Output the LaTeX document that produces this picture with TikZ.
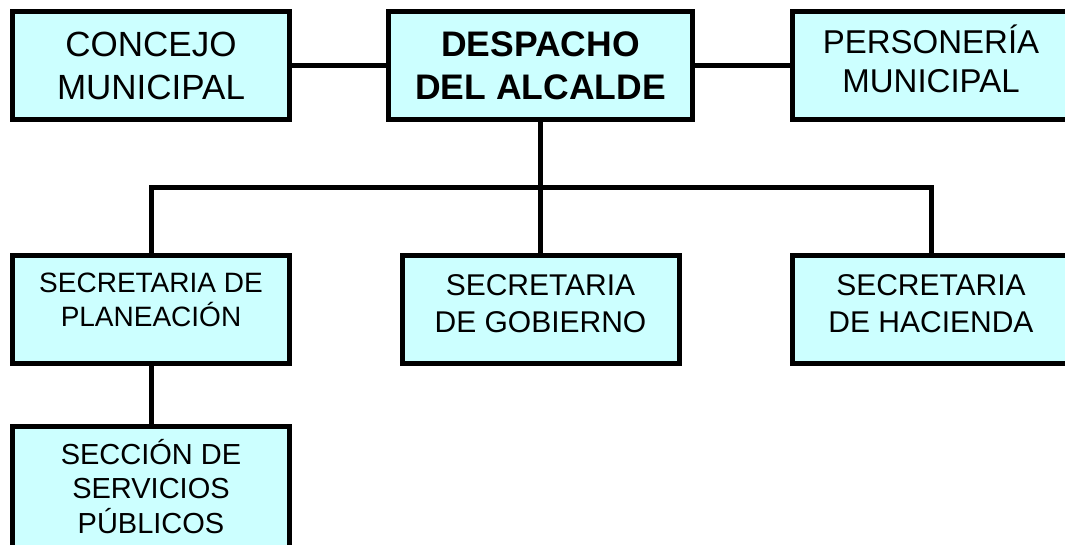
\documentclass[tikz,border=0pt]{standalone}
\usepackage{fontspec}
\setmainfont{Liberation Sans}
\usepackage{tikz}
\usetikzlibrary{positioning}
\definecolor{cajacyan}{HTML}{CCFFFF}
% texto algo mas arriba dentro de la caja
\newcommand{\subir}[2]{\raisebox{#1}[\height][\depth]{\begin{tabular}{@{}c@{}}#2\end{tabular}}}

\begin{document}
\begin{tikzpicture}[x=1pt,y=-1pt,line width=5pt,
  caja/.style={rectangle,draw=black,fill=cajacyan,line width=5pt,align=center,inner sep=0pt,
    minimum width=277pt,minimum height=108pt},
  alta node/.style={caja,font=\fontsize{35}{43}\selectfont},
  jefe node/.style={caja,minimum width=304pt,font=\fontsize{35.5}{43}\selectfont\bfseries},
  baja node/.style={caja,font=\fontsize{30}{37}\selectfont}]
  \useasboundingbox (0,0) rectangle (1065,544);

  \node[jefe node] (despacho) at (540.5,65.5) {DESPACHO\\DEL ALCALDE};
  \node[alta node] (concejo) [left=94pt of despacho] {CONCEJO\\MUNICIPAL};
  \node[alta node,font=\fontsize{33}{39}\selectfont] (personeria) [right=95pt of despacho] {\subir{1pt}{PERSONERÍA\\MUNICIPAL}};

  \node[baja node,font=\fontsize{28}{32}\selectfont] (planeacion) [below=131pt of concejo] {\subir{6pt}{SECRETARIA DE\\PLANEACIÓN}};
  \node[baja node] (gobierno) [below=131pt of despacho] {\subir{3pt}{SECRETARIA\\DE GOBIERNO}};
  \node[baja node] (hacienda) [below=131pt of personeria] {\subir{3pt}{SECRETARIA\\DE HACIENDA}};
  \node[baja node,minimum height=130pt,font=\fontsize{29}{34}\selectfont] (servicios) [below=58pt of planeacion] {\subir{0pt}{SECCIÓN DE\\SERVICIOS\\PÚBLICOS}};

  \coordinate (ramal) at (540.5,187);
  \draw (concejo) -- (despacho);
  \draw (despacho) -- (personeria);
  \draw (despacho) -- (gobierno);
  \draw (planeacion) |- (ramal) -| (hacienda);
  \draw (planeacion) -- (servicios);
\end{tikzpicture}
\end{document}
